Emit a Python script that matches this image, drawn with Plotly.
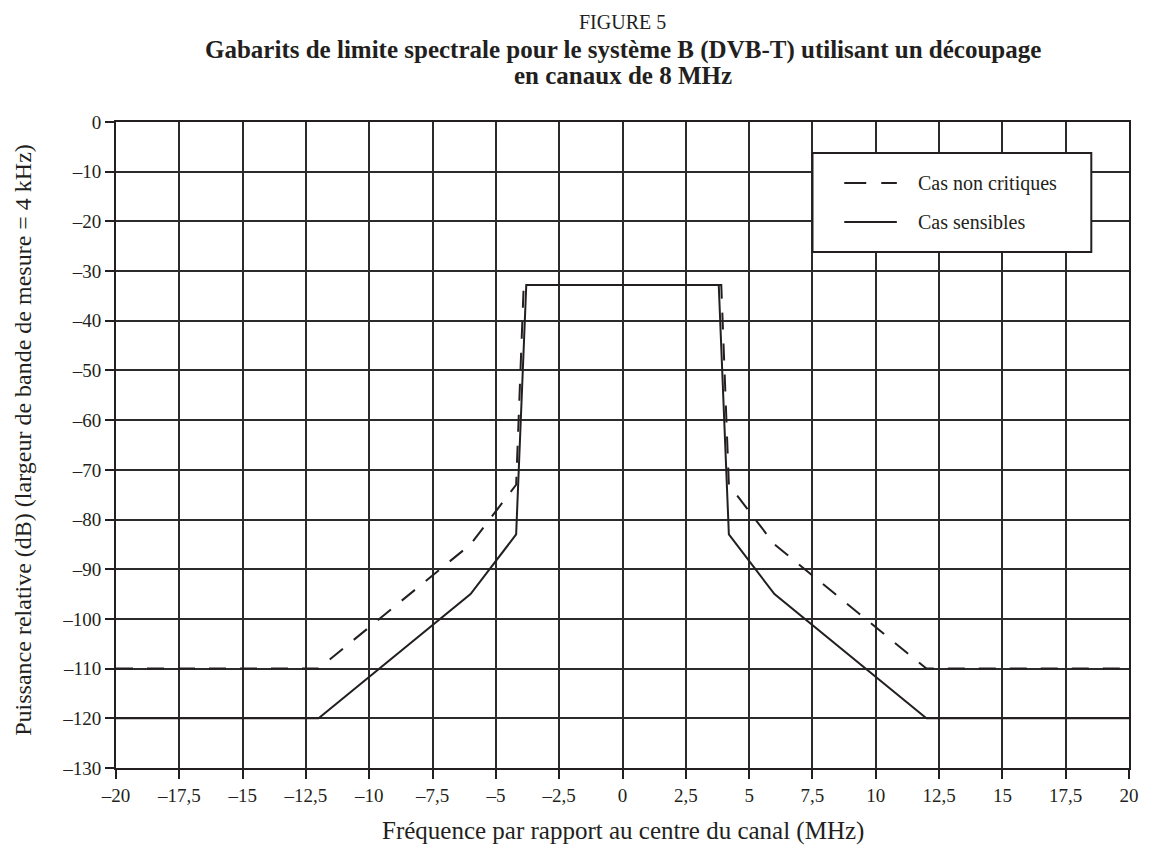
import plotly.graph_objects as go

# Data
freq_noncrit = [-20, -12, -6, -4.2, -3.9, 3.9, 4.2, 6, 12, 20]
level_noncrit = [-110, -110, -85, -73, -32.8, -32.8, -73, -85, -110, -110]
freq_sens = [-20, -12, -6, -4.2, -3.8, 3.8, 4.2, 6, 12, 20]
level_sens = [-120, -120, -95, -83, -32.8, -32.8, -83, -95, -120, -120]
series_names = ["Cas non critiques", "Cas sensibles"]

x_ticks = [-20, -17.5, -15, -12.5, -10, -7.5, -5, -2.5, 0, 2.5, 5, 7.5, 10, 12.5, 15, 17.5, 20]
y_ticks = list(range(0, -131, -10))


def fmt(v):
    s = ("%g" % abs(v)).replace(".", ",")
    return ("\u2013" + s) if v < 0 else s


x_ticktext = [fmt(v) for v in x_ticks]
y_ticktext = [fmt(v) for v in y_ticks]

FONT = "Liberation Serif"
INK = "#231f20"
GRID = "#2b2b2b"
DASH = "17px,14px"

# page body has an 8px margin: keep the figure inside the window
OFF = 8
W, H = 1143, 842
L = 116 - OFF
R = W - (1137 - OFF)
T = 122 - OFF
B = H - (768 - OFF)
PH = H - T - B
PW = W - L - R


def px(sx):  # screen x -> paper x
    return (sx - OFF - L) / PW


def py(sy):  # screen y -> paper y
    return 1 - (sy - OFF - T) / PH


fig = go.Figure()
fig.add_trace(go.Scatter(x=freq_noncrit, y=level_noncrit, mode="lines",
                         name=series_names[0], showlegend=False,
                         line=dict(color=INK, width=2, dash=DASH)))
fig.add_trace(go.Scatter(x=freq_sens, y=level_sens, mode="lines",
                         name=series_names[1], showlegend=False,
                         line=dict(color=INK, width=2)))

# legend frame and keys
shapes = [
    dict(type="rect", xref="paper", yref="paper",
         x0=px(818), x1=px(1099), y0=py(252), y1=py(153),
         fillcolor="white", line=dict(color=INK, width=2), layer="above"),
    dict(type="line", xref="paper", yref="paper",
         x0=px(850), x1=px(903), y0=py(183), y1=py(183),
         line=dict(color=INK, width=2, dash="22px,15px"), layer="above"),
    dict(type="line", xref="paper", yref="paper",
         x0=px(850), x1=px(903), y0=py(222), y1=py(222),
         line=dict(color=INK, width=2), layer="above"),
]

annotations = [
    dict(text="FIGURE 5", xref="paper", yref="paper", x=0.5, y=py(22),
         showarrow=False, font=dict(size=20, family=FONT, color=INK), yanchor="middle"),
    dict(text="<b>Gabarits de limite spectrale pour le système B (DVB-T) utilisant un découpage</b>",
         xref="paper", yref="paper", x=0.5, y=py(50),
         showarrow=False, font=dict(size=25, family=FONT, color=INK), yanchor="middle"),
    dict(text="<b>en canaux de 8 MHz</b>",
         xref="paper", yref="paper", x=0.5, y=py(75),
         showarrow=False, font=dict(size=25, family=FONT, color=INK), yanchor="middle"),
    dict(text="Fréquence par rapport au centre du canal (MHz)",
         xref="paper", yref="paper", x=0.5, y=py(831),
         showarrow=False, font=dict(size=25, family=FONT, color=INK), yanchor="middle"),
    dict(text="Puissance relative (dB) (largeur de bande de mesure = 4 kHz)",
         xref="paper", yref="paper", x=px(22), y=py(440), textangle=-90,
         showarrow=False, font=dict(size=24, family=FONT, color=INK),
         xanchor="center", yanchor="middle"),
    dict(text=series_names[0], xref="paper", yref="paper", x=px(922), y=py(183),
         showarrow=False, font=dict(size=20, family=FONT, color=INK),
         xanchor="left", yanchor="middle"),
    dict(text=series_names[1], xref="paper", yref="paper", x=px(922), y=py(222),
         showarrow=False, font=dict(size=20, family=FONT, color=INK),
         xanchor="left", yanchor="middle"),
]

axis_common = dict(showgrid=True, gridcolor=GRID, gridwidth=2,
                   showline=True, linecolor=INK, linewidth=2, mirror=True,
                   ticks="outside", ticklen=9, tickwidth=2, tickcolor=INK,
                   zeroline=False, tickfont=dict(size=19, family=FONT, color=INK))

fig.update_layout(
    width=W, height=H,
    margin=dict(l=L, r=R, t=T, b=B),
    paper_bgcolor="white", plot_bgcolor="white",
    font=dict(family=FONT, size=19, color=INK),
    showlegend=False,
    xaxis=dict(range=[-20, 20], tickvals=x_ticks, ticktext=x_ticktext, **axis_common),
    yaxis=dict(range=[-130, 0], tickvals=y_ticks, ticktext=y_ticktext, **axis_common),
    shapes=shapes,
    annotations=annotations,
)

fig.write_html("out.html")
